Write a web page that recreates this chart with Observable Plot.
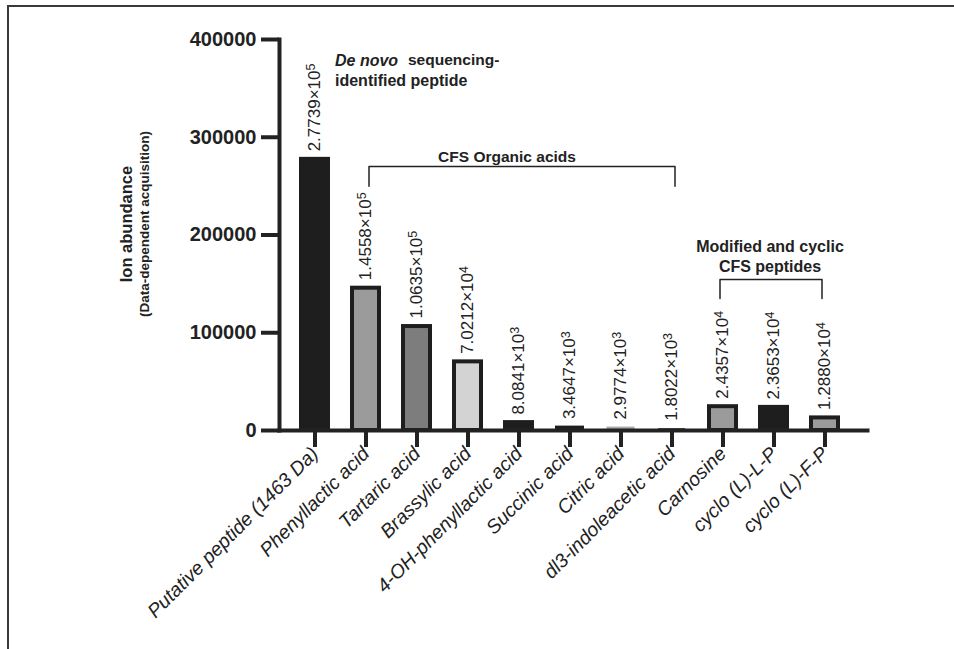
<!DOCTYPE html>
<html>
<head>
<meta charset="utf-8">
<script src="https://cdn.jsdelivr.net/npm/d3@7"></script>
<script src="https://cdn.jsdelivr.net/npm/@observablehq/plot@0.6"></script>
<style>
  html, body { margin: 0; padding: 0; background: #fff; }
  #wrap { position: relative; width: 954px; height: 649px; overflow: hidden; }
  #border { position: absolute; left: 7px; top: 5px; right: -4px; bottom: -4px;
            border-top: 2px solid #3a3a3a; border-left: 2px solid #3a3a3a; pointer-events: none; }
  svg { display: block; }
</style>
</head>
<body>
<div id="wrap"><div id="border"></div></div>
<script>
const categories = ["Putative peptide (1463 Da)", "Phenyllactic acid", "Tartaric acid", "Brassylic acid",
  "4-OH-phenyllactic acid", "Succinic acid", "Citric acid", "dl3-indoleacetic acid",
  "Carnosine", "cyclo (L)-L-P", "cyclo (L)-F-P"];
const values = [277390, 145580, 106350, 70212, 8084.1, 3464.7, 2977.4, 1802.2, 24357, 23653, 12880];
const valueLabels = ["2.7739×10⁵", "1.4558×10⁵", "1.0635×10⁵", "7.0212×10⁴", "8.0841×10³",
  "3.4647×10³", "2.9774×10³", "1.8022×10³", "2.4357×10⁴", "2.3653×10⁴", "1.2880×10⁴"];
const yTicks = [0, 100000, 200000, 300000, 400000];

const fillColors = ["#1e1e1e", "#9b9b9b", "#7d7d7d", "#d3d3d3", "#1e1e1e", "#1e1e1e", "#a8a8a8", "#1e1e1e", "#9b9b9b", "#1e1e1e", "#9b9b9b"];
const strokeColors = ["#1e1e1e", "#1e1e1e", "#1e1e1e", "#1e1e1e", "#1e1e1e", "#1e1e1e", "#a8a8a8", "#1e1e1e", "#1e1e1e", "#1e1e1e", "#1e1e1e"];
const strokeWidths = [4, 4, 4, 4, 4, 2, 1, 0, 4, 4, 4];

const rows = categories.map((c, i) => ({category: c, value: values[i], label: valueLabels[i],
  fill: fillColors[i], stroke: strokeColors[i], sw: strokeWidths[i]}));

const organic = [
  {category: categories[1], y: 250000}, {category: categories[1], y: 270000},
  {category: categories[7], y: 270000}, {category: categories[7], y: 250000}];
const cyclic = [
  {category: categories[8], y: 135000}, {category: categories[8], y: 154500},
  {category: categories[10], y: 154500}, {category: categories[10], y: 135000}];

const ink = "#222";
const font = "'Liberation Sans', Arial, Helvetica, sans-serif";

const chart = Plot.plot({
  width: 954, height: 649,
  marginLeft: 279, marginRight: 87, marginTop: 39, marginBottom: 219,
  style: {fontFamily: font, background: "transparent", color: ink},
  x: {domain: categories, paddingInner: 0.478, paddingOuter: 0.4255, align: 0.436, axis: null},
  y: {domain: [0, 400000], axis: null},
  color: {type: "identity"},
  marks: [
    Plot.barY(rows, {x: "category", y: "value", fill: "fill", stroke: "stroke", strokeWidth: "sw"}),
    Plot.text(rows, {x: "category", y: "value", text: "label", rotate: -90, textAnchor: "start",
      dy: -8, fontSize: 17, fill: ink}),
    Plot.frame({anchor: "left", stroke: ink, strokeWidth: 4}),
    Plot.frame({anchor: "bottom", stroke: ink, strokeWidth: 4}),
    Plot.axisY({ticks: yTicks, tickFormat: d => String(d), tickSize: 18, tickPadding: 5,
      strokeWidth: 4, stroke: ink, fontSize: 20, fontWeight: "bold", fill: ink, label: null}),
    Plot.axisX({tickSize: 17, tickPadding: 3, tickRotate: -45, strokeWidth: 4, stroke: ink,
      fontSize: 19.5, fontStyle: "italic", fill: ink, label: null}),
    // y-axis title
    Plot.text(["Ion abundance"], {frameAnchor: "left", rotate: -90, textAnchor: "middle", dx: -153, dy: -11,
      fontSize: 16.5, fontWeight: "bold", fill: ink}),
    Plot.text(["(Data-dependent acquisition)"], {frameAnchor: "left", rotate: -90, textAnchor: "middle", dx: -135, dy: -11,
      fontSize: 13.5, fontWeight: "bold", fill: ink}),
    // annotations
    Plot.text(["De novo"], {x: [categories[0]], y: [378500], textAnchor: "start", dx: 20,
      fontSize: 16, fontWeight: "bold", fontStyle: "italic", fill: ink}),
    Plot.text(["sequencing-"], {x: [categories[0]], y: [378500], textAnchor: "start", dx: 93,
      fontSize: 15.5, fontWeight: "bold", fill: ink}),
    Plot.text(["identified peptide"], {x: [categories[0]], y: [358000], textAnchor: "start", dx: 20,
      fontSize: 16, fontWeight: "bold", fill: ink}),
    Plot.text(["CFS Organic acids"], {x: [categories[4]], y: [279300], dx: -12,
      fontSize: 15.5, fontWeight: "bold", fill: ink}),
    Plot.line(organic, {x: "category", y: "y", dx: 3, stroke: ink, strokeWidth: 1.5}),
    Plot.text(["Modified and cyclic", "CFS peptides"], {x: [categories[9], categories[9]], y: [187500, 167800],
      dx: -4, fontSize: 16, fontWeight: "bold", fill: ink}),
    Plot.line(cyclic, {x: "category", y: "y", dx: -3, stroke: ink, strokeWidth: 1.5})
  ]
});

// render the power-of-ten exponents as raised tspans
const supMap = {"⁰": "0", "¹": "1", "²": "2", "³": "3", "⁴": "4", "⁵": "5", "⁶": "6", "⁷": "7", "⁸": "8", "⁹": "9"};
chart.querySelectorAll("text").forEach(t => {
  const m = t.textContent.match(/^(.*×10)([⁰¹²³⁴⁵⁶⁷⁸⁹]+)$/);
  if (!m) return;
  t.textContent = m[1];
  const ts = document.createElementNS("http://www.w3.org/2000/svg", "tspan");
  ts.setAttribute("dy", "-0.42em");
  ts.setAttribute("font-size", "12.5");
  ts.textContent = [...m[2]].map(ch => supMap[ch]).join("");
  t.appendChild(ts);
});

document.getElementById("wrap").prepend(chart);
</script>
</body>
</html>
